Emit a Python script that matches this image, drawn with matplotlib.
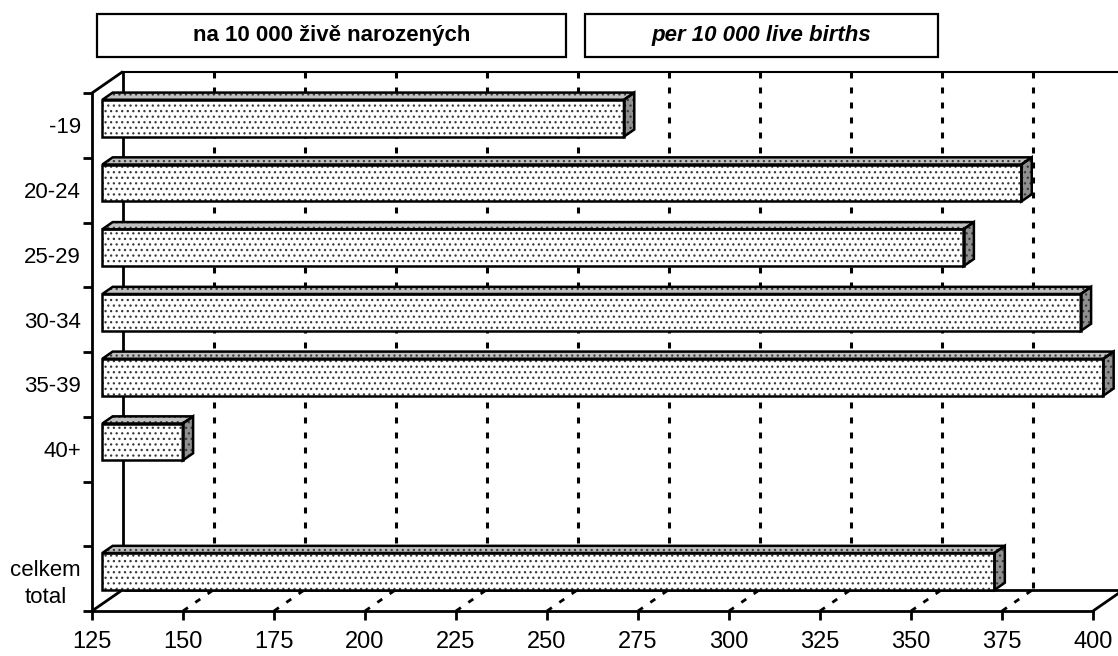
import matplotlib
matplotlib.use("Agg")
import matplotlib.pyplot as plt
from matplotlib.patches import Polygon, Rectangle
from matplotlib import font_manager

# ---- data ----
categories = ["-19", "20-24", "25-29", "30-34", "35-39", "40+", "", "celkem\ntotal"]
values = [268.3, 377.5, 361.6, 393.8, 400.0, 147.1, None, 370.1]
x_ticks = [125, 150, 175, 200, 225, 250, 275, 300, 325, 350, 375, 400]
title_cz = "na 10 000 živě narozených"
title_en = "per 10 000 live births"

names = {f.name for f in font_manager.fontManager.ttflist}
FONT = "Liberation Sans Narrow" if "Liberation Sans Narrow" in names else "Liberation Sans"
plt.rcParams["font.family"] = [FONT, "DejaVu Sans"]
plt.rcParams["lines.scale_dashes"] = False
plt.rcParams["hatch.linewidth"] = 0.9

W, H = 1118, 656
fig = plt.figure(figsize=(W / 100, H / 100), dpi=100)
# front plane of the plot
L, R, T, B = 92, 1093, 93, 611
ax = fig.add_axes([L / W, 1 - B / H, (R - L) / W, (B - T) / H])
xmin, xmax = x_ticks[0], x_ticks[-1]
n = len(categories)
ax.set_xlim(xmin, xmax)
ax.set_ylim(n, 0)

# depth offset in data units (31 px right, 21.5 px up)
DX = 31 / ((R - L) / (xmax - xmin))
DY = -21.5 / ((B - T) / n)

LW = 2.0
K = "black"
common = dict(clip_on=False, color=K, solid_capstyle="butt")
dash = (0, (4.3, 6.5))

# back wall & floor
ax.plot([xmin + DX, xmin + DX], [DY, n + DY], lw=LW, zorder=1, **common)
ax.plot([xmin + DX, xmax + DX], [DY, DY], lw=1.5, zorder=1, **common)
ax.plot([xmin + DX, xmax + DX], [n + DY, n + DY], lw=LW, zorder=1, **common)
ax.plot([xmin, xmin + DX], [0, DY], lw=LW, zorder=1, **common)
ax.plot([xmin, xmin + DX], [n, n + DY], lw=LW, zorder=1, **common)
ax.plot([xmax, xmax + DX], [n, n + DY], lw=LW, zorder=1, **common)
for v in x_ticks[1:-1]:
    ax.plot([v + DX, v + DX], [DY, n + DY], lw=2.2, ls=dash, zorder=1,
            clip_on=False, color=K)
    ax.plot([v, v + DX], [n, n + DY], lw=2.0, ls=dash, zorder=1,
            clip_on=False, color=K)


def face(pts, fc):
    ax.add_patch(Polygon(pts, closed=True, facecolor=fc, edgecolor="#3a3a3a",
                         lw=0, hatch="...", zorder=3, clip_on=False))
    ax.add_patch(Polygon(pts, closed=True, facecolor="none", edgecolor=K,
                         lw=1.8, zorder=3.5, clip_on=False, joinstyle="miter"))


# bars
f0, f1 = 1 / 3, 2 / 3
h = 0.57
for k, v in enumerate(values):
    if v is None:
        continue
    yt = k + 0.5 - h / 2
    yb = k + 0.5 + h / 2
    x0 = xmin
    face([(x0 + DX * f0, yt + DY * f0), (v + DX * f0, yt + DY * f0),
          (v + DX * f0, yb + DY * f0), (x0 + DX * f0, yb + DY * f0)], "white")
    face([(x0 + DX * f0, yt + DY * f0), (v + DX * f0, yt + DY * f0),
          (v + DX * f1, yt + DY * f1), (x0 + DX * f1, yt + DY * f1)], "#c0c0c0")
    face([(v + DX * f0, yt + DY * f0), (v + DX * f1, yt + DY * f1),
          (v + DX * f1, yb + DY * f1), (v + DX * f0, yb + DY * f0)], "#909090")

# axes
for s in ("top", "right"):
    ax.spines[s].set_visible(False)
for s in ("left", "bottom"):
    ax.spines[s].set_linewidth(LW)
    ax.spines[s].set_zorder(5)
ax.set_facecolor("none")
ax.set_xticks(x_ticks)
ax.set_xticklabels([str(t) for t in x_ticks], fontsize=17)
ax.tick_params(axis="x", direction="out", length=6.5, width=LW, pad=8)
ax.set_yticks(range(n + 1))
ax.set_yticklabels([])
ax.set_yticks([k + 0.5 for k in range(n)], minor=True)
ax.set_yticklabels(categories, minor=True, fontsize=16, multialignment="center",
                   linespacing=1.35)
ax.tick_params(axis="y", which="major", direction="out", length=6.5, width=LW)
ax.tick_params(axis="y", which="minor", length=0, pad=8)

# title boxes
def box(x0, x1, text, style):
    fig.patches.append(Rectangle((x0 / W, 1 - 57 / H), (x1 - x0) / W, 43 / H,
                                 transform=fig.transFigure, facecolor="white",
                                 edgecolor=K, lw=1.6))
    fig.text((x0 + x1) / 2 / W, 1 - 36 / H, text, ha="center", va="center",
             fontsize=16, fontweight="bold", style=style)

box(97, 566, title_cz, "normal")
box(585, 938, title_en, "italic")

fig.savefig("out.png", dpi=100)
